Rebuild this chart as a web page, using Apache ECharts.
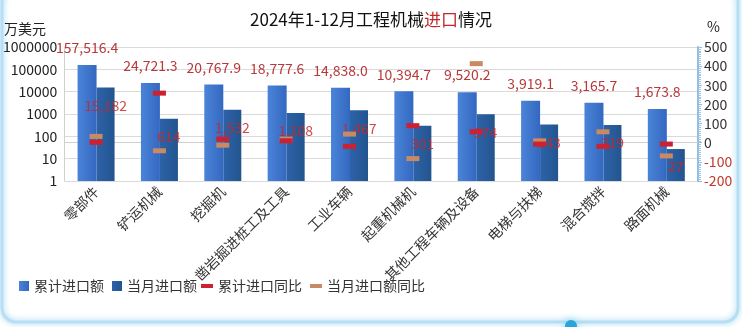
<!DOCTYPE html>
<html>
<head>
<meta charset="utf-8">
<script src="https://cdn.jsdelivr.net/npm/echarts@6/dist/echarts.min.js"></script>
<style>
  html, body { margin: 0; padding: 0; background: #ffffff; }
  #chart { width: 742px; height: 327px; }
</style>
</head>
<body>
<div id="chart"></div>
<script>
// Product categories
const categories = ['零部件', '铲运机械', '挖掘机', '凿岩掘进桩工及工具', '工业车辆', '起重机械机', '其他工程车辆及设备', '电梯与扶梯', '混合搅拌', '路面机械'];
// Cumulative Jan–Dec imports (10k USD)
const cumulativeImports = [157516.4, 24721.3, 20767.9, 18777.6, 14838.0, 10394.7, 9520.2, 3919.1, 3165.7, 1673.8];
// December imports (10k USD)
const monthlyImports = [15182, 614, 1532, 1108, 1467, 301, 974, 343, 319, 27];
// Year-on-year change of cumulative imports (%)
const cumulativeYoY = [2, 259, 19, 10, -19, 89, 57, -7, -19, -7];
// Year-on-year change of December imports (%)
const monthlyYoY = [33, -42, -13, 19, 45, -83, 413, 10, 57, -69];
// Axis ticks
const leftTicks = [1, 10, 100, 1000, 10000, 100000, 1000000];
const rightTicks = [-200, -100, 0, 100, 200, 300, 400, 500];

const chart = echarts.init(document.getElementById('chart'), null, { renderer: 'canvas' });
const fontFamily = '"Noto Sans CJK SC", "Noto Sans", sans-serif';

function withCommas(v, digits) {
  return v.toLocaleString('en-US', { minimumFractionDigits: digits, maximumFractionDigits: digits });
}

chart.setOption({
  backgroundColor: '#ffffff',
  textStyle: { fontFamily: fontFamily },
  animation: false,
  title: {
    text: '{a|2024年1-12月工程机械}{b|进口}{a|情况}',
    left: 'center',
    top: 6,
    textStyle: {
      fontWeight: 'normal',
      rich: {
        a: { fontSize: 17, color: '#111', fontWeight: 'normal', fontFamily: fontFamily },
        b: { fontSize: 17, color: '#c0282d', fontWeight: 'normal', fontFamily: fontFamily }
      }
    }
  },
  graphic: [
    {
      type: 'rect', silent: true, z: -10,
      shape: { x: 2, y: -12, width: 736, height: 334, r: 14 },
      style: { fill: 'rgba(0,0,0,0)', stroke: '#b7def2', lineWidth: 3, shadowBlur: 6, shadowColor: '#8fd0ef' }
    },
    {
      type: 'circle', silent: true, z: -5,
      shape: { cx: 571, cy: 326, r: 6 },
      style: { fill: '#2aa3d8', shadowBlur: 8, shadowColor: '#7fd3f5' }
    },
    {
      type: 'text', left: 4, top: 22,
      style: { text: '万美元', fontSize: 14, fill: '#222', fontFamily: fontFamily }
    },
    {
      type: 'text', left: 707, top: 20,
      style: { text: '%', fontSize: 14, fill: '#222', fontFamily: fontFamily }
    }
  ],
  legend: [
    {
      left: 14, top: 274,
      itemWidth: 10, itemHeight: 10, itemGap: 8,
      icon: 'rect',
      textStyle: { fontSize: 14, color: '#333' },
      data: ['累计进口额', '当月进口额']
    },
    {
      left: 196, top: 274,
      itemWidth: 12, itemHeight: 4, itemGap: 8,
      icon: 'rect',
      textStyle: { fontSize: 14, color: '#333' },
      data: ['累计进口同比', '当月进口额同比']
    }
  ],
  grid: { left: 60, right: 44, top: 47, bottom: 146, containLabel: false },
  xAxis: {
    type: 'category',
    data: categories,
    axisTick: { show: false },
    axisLine: { lineStyle: { color: '#d0d0d0' } },
    axisLabel: { rotate: 45, fontSize: 14, color: '#333', margin: 8, interval: 0 }
  },
  yAxis: [
    {
      type: 'log', logBase: 10, min: leftTicks[0], max: leftTicks[leftTicks.length - 1],
      axisLine: { show: true, lineStyle: { color: '#d0d0d0' } },
      axisTick: { show: false },
      splitLine: { lineStyle: { color: '#dadada' } },
      axisLabel: { fontSize: 14, color: '#222', margin: 7, formatter: v => String(Math.round(v)) }
    },
    {
      type: 'value', min: rightTicks[0], max: rightTicks[rightTicks.length - 1], interval: 100,
      position: 'right',
      axisLine: { show: true, lineStyle: { color: '#8fbde3', width: 2 } },
      axisTick: { show: true, length: 4, lineStyle: { color: '#8fbde3' } },
      minorTick: { show: true, splitNumber: 10, length: 3, lineStyle: { color: '#9cc6e8' } },
      splitLine: { show: false },
      axisLabel: {
        fontSize: 14, margin: 6,
        formatter: v => (v < 0 ? '{n|' + v + '}' : '{p|' + v + '}'),
        rich: { p: { color: '#333', fontSize: 14 }, n: { color: '#c0392b', fontSize: 14 } }
      }
    }
  ],
  series: [
    {
      name: '累计进口额', type: 'bar', yAxisIndex: 0,
      data: cumulativeImports,
      barWidth: 19, barGap: '0%',
      itemStyle: {
        color: new echarts.graphic.LinearGradient(0, 0, 1, 0, [
          { offset: 0, color: '#4a84d8' },
          { offset: 1, color: '#3468c0' }
        ])
      },
      label: {
        show: true, position: 'top', distance: 10,
        fontSize: 14, color: '#b8383b',
        formatter: p => withCommas(p.value, 1)
      }
    },
    {
      name: '当月进口额', type: 'bar', yAxisIndex: 0,
      data: monthlyImports,
      barWidth: 18,
      itemStyle: {
        color: new echarts.graphic.LinearGradient(0, 0, 1, 0, [
          { offset: 0, color: '#2d62a8' },
          { offset: 1, color: '#22558f' }
        ])
      },
      label: {
        show: true, position: 'insideTop', distance: 11,
        fontSize: 14, color: 'rgba(200,40,40,0.85)',
        formatter: p => withCommas(p.value, 0)
      },
      z: 3
    },
    {
      name: '累计进口同比', type: 'line', yAxisIndex: 1,
      data: cumulativeYoY,
      symbol: 'rect', symbolSize: [13, 5],
      lineStyle: { opacity: 0 },
      itemStyle: { color: '#cc2130' },
      z: 6
    },
    {
      name: '当月进口额同比', type: 'line', yAxisIndex: 1,
      data: monthlyYoY,
      symbol: 'rect', symbolSize: [13, 5],
      lineStyle: { opacity: 0 },
      itemStyle: { color: '#c98a63' },
      z: 5
    }
  ]
});
</script>
</body>
</html>
